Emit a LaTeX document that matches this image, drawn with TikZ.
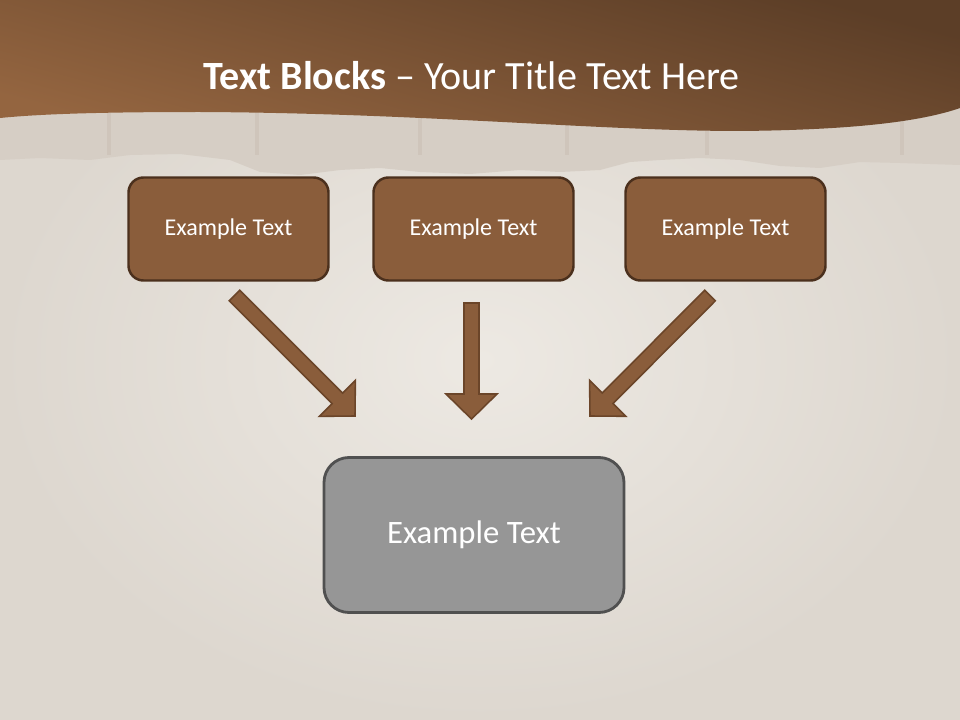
\documentclass[tikz,border=0pt]{standalone}
\usepackage{fontspec}
\setmainfont{Carlito}
\usetikzlibrary{calc}

\definecolor{bgbase}{HTML}{DDD7CF}
\definecolor{bglite}{HTML}{EDE9E3}
\definecolor{woodbg}{HTML}{D6CEC5}
\definecolor{woodline}{HTML}{C4B7A9}
\definecolor{banddark}{HTML}{5C3E27}
\definecolor{bandlite}{HTML}{946540}
\definecolor{boxfill}{HTML}{8A5D3B}
\definecolor{boxline}{HTML}{4B301D}
\definecolor{arrowline}{HTML}{6B4529}
\definecolor{greyfill}{HTML}{969696}
\definecolor{greyline}{HTML}{505050}

\tikzset{
  topbox/.style={draw=boxline, fill=boxfill, line width=1.4pt, rounded corners=3mm,
    minimum width=40mm, minimum height=20.6mm, text=white,
    font=\fontsize{13.7}{16}\selectfont},
  bigbox/.style={draw=greyline, fill=greyfill, line width=1.6pt, rounded corners=5mm,
    minimum width=60mm, minimum height=31mm, text=white,
    font=\fontsize{18.6}{22}\selectfont},
  blockarrow/.style={draw=arrowline, fill=boxfill, line width=0.9pt, line join=miter}
}

% block arrow from #1 (tail) to #2 (tip)
\newcommand{\blockarr}[2]{%
  \draw[blockarrow] ($(#1)!1.5mm!90:(#2)$) -- ($(#2)!5mm!(#1)!1.5mm!90:(#2)$)
    -- ($(#2)!5mm!(#1)!5.1mm!90:(#2)$) -- (#2)
    -- ($(#2)!5mm!(#1)!5.1mm!-90:(#2)$) -- ($(#2)!5mm!(#1)!1.5mm!-90:(#2)$)
    -- ($(#1)!1.5mm!-90:(#2)$) -- cycle;}

\begin{document}
\begin{tikzpicture}[x=0.2mm,y=-0.2mm]
\useasboundingbox (0,0) rectangle (960,720);
%
	% background
	\shade[inner color=bglite, outer color=bgbase] (0,0) rectangle (960,720);
	\fill[woodbg] (0,100) -- (960,100) -- (960,165) -- (900,163) -- (860,162)
		-- (820,168) -- (780,166) -- (740,160) -- (700,158) -- (660,160)
		-- (630,162) -- (600,170) -- (560,172) -- (520,170) -- (470,174)
		-- (420,172) -- (380,168) -- (340,170) -- (300,175) -- (260,172)
		-- (230,160) -- (180,154) -- (130,155) -- (90,160) -- (40,158)
		-- (0,160) -- cycle;
	\foreach \x in {107,255,418,565,705,900}
		\fill[woodline, opacity=0.35] (\x,105) rectangle (\x+4,155);
	\shade[top color=banddark, bottom color=bandlite, shading angle=-15]
		(0,0) -- (960,0) -- (960,108) .. controls (920,122) and (850,130) .. (740,131)
		.. controls (600,131) and (420,113) .. (200,112)
		.. controls (100,112) and (40,114) .. (0,118) -- cycle;
%
	\node[text=white, font=\fontsize{22.8}{26}\selectfont] (title) at (471.5,76)
		{\textbf{Text Blocks} -- Your Title Text Here};
%
	\node[topbox] (left) at (228.5,229) {Example Text};
	\node[topbox] (middle) at (473.5,229) {Example Text};
	\node[topbox] (right) at (725.5,229) {Example Text};
	\node[bigbox] (result) at (474,535) {Example Text};
%
	\coordinate (lt) at (234.5,295.5);
	\coordinate (lh) at (355,416);
	\coordinate (mt) at (471.5,303);
	\coordinate (mh) at (471.5,419);
	\coordinate (rt) at (710,295.5);
	\coordinate (rh) at (590,416);
	\blockarr{lt}{lh}
	\blockarr{mt}{mh}
	\blockarr{rt}{rh}
\end{tikzpicture}
\end{document}
